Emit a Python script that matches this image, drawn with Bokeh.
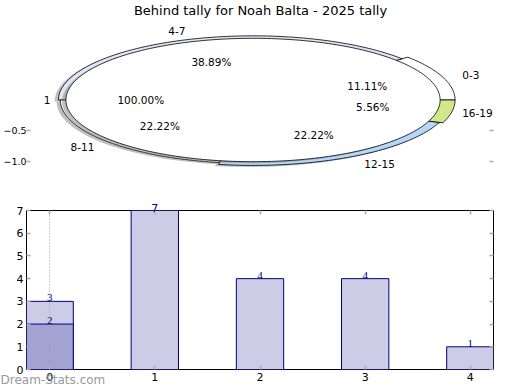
import numpy as np
from bokeh.plotting import figure
from bokeh.models import ColumnDataSource, Range1d, FixedTicker, LinearAxis, Label, LabelSet
from bokeh.layouts import column
from bokeh.embed import file_html
from bokeh.resources import INLINE
from bokeh.core.properties import value

# ---------------- data ----------------
title_text = "Behind tally for Noah Balta - 2025 tally"
outer_labels = ["0-3", "4-7", "8-11", "12-15", "16-19"]
outer_values = [2, 7, 4, 4, 1]
inner_labels = ["1"]
inner_values = [1]

bar_x = [0, 1, 2, 3, 4]
bar_totals = [3, 7, 4, 4, 1]
bar_sub_x = [0]
bar_sub_values = [2]

pie_yticks = [-0.5, -1.0]
bar_yticks = [0, 1, 2, 3, 4, 5, 6, 7]
watermark = "Dream-Stats.com"

# ---------------- style ----------------
outer_colors = ["#ffffff", "#dfe7f7", "#ffffff", "#b7d6fa", "#d2e68c"]
outer_radius = [1.08, 1.04, 1.03, 1.06, 1.08]
LABEL_R = 1.19
PCT_R = 0.65
FONT = "DejaVu Sans"
TICK_COLOR = "#aaaaaa"
PIE_X = (-1.2107, 1.2853)
PIE_Y = (-1.5806, 1.6129)
BAR_XR = (-0.22, 4.22)
WM_X = 0.031  # watermark centre, in bar-chart x units


def wedge(a0, a1, r, full=False):
    n = max(8, int(abs(a1 - a0) / (2 * np.pi) * 240))
    t = np.linspace(a0, a1, n)
    xs = r * np.cos(t)
    ys = r * np.sin(t)
    if full:
        return list(xs), list(ys)
    return [0.0] + list(xs) + [0.0], [0.0] + list(ys) + [0.0]


def style_axis(ax, size="11px", standoff=3, labels=True, ticks=True, color="black"):
    ax.axis_line_color = None
    ax.major_tick_in = 4
    ax.major_tick_out = 0
    ax.major_tick_line_color = TICK_COLOR if ticks else None
    ax.major_tick_line_width = 1.5
    ax.minor_tick_line_color = None
    ax.major_label_text_font = FONT
    ax.major_label_text_color = color
    if labels:
        ax.major_label_text_font_size = size
        ax.major_label_standoff = standoff
    else:
        ax.major_label_text_font_size = "0px"
        ax.major_label_standoff = 0


# ---------------- pie figure ----------------
p1 = figure(width=520, height=197,
            x_range=Range1d(*PIE_X), y_range=Range1d(*PIE_Y),
            output_backend="svg", toolbar_location=None,
            x_axis_location=None, y_axis_location=None,
            min_border_left=25, min_border_right=27,
            min_border_top=0, min_border_bottom=0)
p1.outline_line_color = None
p1.grid.visible = False
p1.background_fill_color = "white"
p1.border_fill_color = "white"

fr = np.array(outer_values, dtype=float) / sum(outer_values)
edges = np.concatenate([[0.0], np.cumsum(fr)]) * 2 * np.pi
shadow_dx, shadow_dy = -0.02, -0.025

oxs, oys, sxs, sys_ = [], [], [], []
for i in range(len(outer_values)):
    xs, ys = wedge(edges[i], edges[i + 1], outer_radius[i])
    oxs.append(xs); oys.append(ys)
    sxs.append([x + shadow_dx for x in xs]); sys_.append([y + shadow_dy for y in ys])

p1.patches(sxs, sys_, fill_color="#707070", fill_alpha=0.45, line_color=None)
p1.patches(oxs, oys, fill_color=outer_colors, line_color="black", line_width=0.8)

ifr = np.array(inner_values, dtype=float) / sum(inner_values)
iedges = np.concatenate([[0.0], np.cumsum(ifr)]) * 2 * np.pi
cx_, cy_ = wedge(0, 2 * np.pi, 1.0, full=True)
p1.patch([x + shadow_dx for x in cx_], [y + shadow_dy for y in cy_],
         fill_color="#707070", fill_alpha=0.45, line_color=None)
p1.patch(cx_, cy_, fill_color="white", line_color="black", line_width=0.8)

# labels
mids = (edges[:-1] + edges[1:]) / 2
lab_x, lab_y, lab_t, lab_a = [], [], [], []
pct_x, pct_y, pct_t = [], [], []
for i, lab in enumerate(outer_labels):
    x = LABEL_R * np.cos(mids[i]); y = LABEL_R * np.sin(mids[i])
    # keep the text inside the plotting area (approx. text width in data units)
    x = min(x, PIE_X[1] - len(lab) * 0.0335)
    lab_x.append(x); lab_y.append(y); lab_t.append(lab)
    lab_a.append("left" if x > 0 else "center")
    pct_x.append(PCT_R * np.cos(mids[i])); pct_y.append(PCT_R * np.sin(mids[i]))
    pct_t.append("%.2f%%" % (fr[i] * 100))
imids = (iedges[:-1] + iedges[1:]) / 2
for i, lab in enumerate(inner_labels):
    x = 1.1 * np.cos(imids[i]); y = 1.1 * np.sin(imids[i])
    lab_x.append(x); lab_y.append(y); lab_t.append(lab)
    lab_a.append("left" if x > 0.001 else "center")
    pct_x.append(0.6 * np.cos(imids[i])); pct_y.append(0.6 * np.sin(imids[i]))
    pct_t.append("%.2f%%" % (ifr[i] * 100))

lsrc = ColumnDataSource(dict(x=lab_x, y=lab_y, t=lab_t, a=lab_a))
p1.text(x="x", y="y", text="t", text_align="a", text_baseline="middle",
        text_font=value(FONT), text_font_size="10.5px", text_color="black", source=lsrc)
psrc = ColumnDataSource(dict(x=pct_x, y=pct_y, t=pct_t))
p1.text(x="x", y="y", text="t", text_align="center", text_baseline="middle",
        text_font=value(FONT), text_font_size="10.5px", text_color="black", source=psrc)

p1.add_layout(Label(x=0.04, y=1.4516, text=title_text, text_align="center",
                    text_baseline="middle", text_font=FONT, text_font_size="13px",
                    text_color="black"))

overrides = {t: ("%.1f" % t).replace("-", "\u2212") for t in pie_yticks}
axl = LinearAxis(ticker=FixedTicker(ticks=pie_yticks), major_label_overrides=overrides)
style_axis(axl, size="9.5px", standoff=0)
p1.add_layout(axl, "left")
axr = LinearAxis(ticker=FixedTicker(ticks=pie_yticks))
style_axis(axr, labels=False)
p1.add_layout(axr, "right")

# ---------------- bar figure ----------------
ymax = bar_yticks[-1]
p2 = figure(width=520, height=193,
            x_range=Range1d(*BAR_XR), y_range=Range1d(bar_yticks[0], ymax),
            output_backend="svg", toolbar_location=None,
            x_axis_location=None, y_axis_location=None,
            min_border_left=25, min_border_right=27,
            min_border_top=13, min_border_bottom=21)
p2.outline_line_color = "black"
p2.outline_line_width = 1
p2.grid.visible = False
p2.background_fill_color = "white"
p2.border_fill_color = "white"

p2.vbar(x=bar_x, top=bar_totals, width=0.45, bottom=0, fill_color="#ccccE6",
        line_color="#000080", line_width=1)
p2.vbar(x=bar_sub_x, top=bar_sub_values, width=0.45, bottom=0, fill_color="#a3a3d1",
        line_color="#000080", line_width=1)
p2.segment(x0=[bar_x[0]], y0=[bar_yticks[0]], x1=[bar_x[0]], y1=[ymax],
           line_color="#999999", line_dash="1 2", line_width=1)

# value labels (the ones at the very top are drawn by a label-only top axis)
lx = [x for x, v in zip(bar_x, bar_totals) if v < ymax] + list(bar_sub_x)
ly = [v for v in bar_totals if v < ymax] + list(bar_sub_values)
vsrc = ColumnDataSource(dict(x=lx, y=ly, t=[str(v) for v in ly]))
p2.add_layout(LabelSet(x="x", y="y", text="t", text_align="center",
                       text_baseline="alphabetic", text_font=FONT,
                       text_font_size="11px", text_color="#000080", source=vsrc))

axb = LinearAxis(ticker=FixedTicker(ticks=bar_x))
style_axis(axb)
p2.add_layout(axb, "below")
axw = LinearAxis(ticker=FixedTicker(ticks=[WM_X]), major_label_overrides={WM_X: watermark})
style_axis(axw, size="12px", standoff=-11, ticks=False, color="#999999")
p2.add_layout(axw, "below")

axt = LinearAxis(ticker=FixedTicker(ticks=bar_x))
style_axis(axt, labels=False)
p2.add_layout(axt, "above")
top_x = [x for x, v in zip(bar_x, bar_totals) if v >= ymax]
axt2 = LinearAxis(ticker=FixedTicker(ticks=top_x),
                  major_label_overrides={x: str(v) for x, v in zip(bar_x, bar_totals) if v >= ymax})
style_axis(axt2, size="11px", standoff=-1, ticks=False, color="#000080")
p2.add_layout(axt2, "above")

ayl = LinearAxis(ticker=FixedTicker(ticks=bar_yticks))
style_axis(ayl)
p2.add_layout(ayl, "left")
ayr = LinearAxis(ticker=FixedTicker(ticks=bar_yticks))
style_axis(ayr, labels=False)
p2.add_layout(ayr, "right")

layout = column(p1, p2)
open("out.html", "w").write(file_html(layout, INLINE))
